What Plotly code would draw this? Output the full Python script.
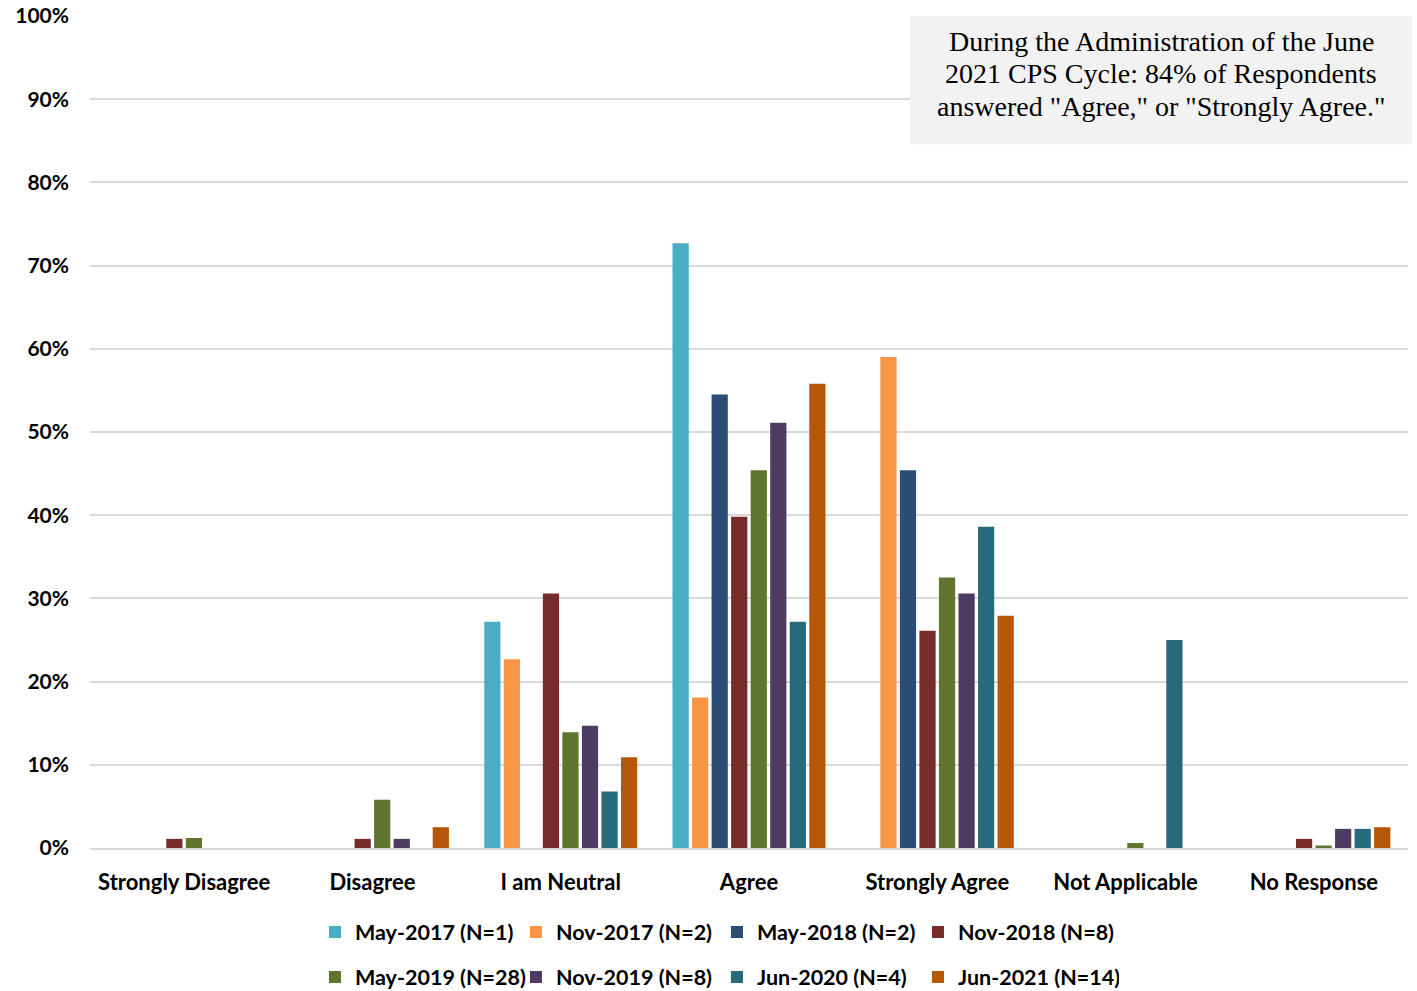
import plotly.graph_objects as go

categories = ["Strongly Disagree", "Disagree", "I am Neutral", "Agree",
              "Strongly Agree", "Not Applicable", "No Response"]

series_names = ["May-2017 (N=1)", "Nov-2017 (N=2)", "May-2018 (N=2)", "Nov-2018 (N=8)",
                "May-2019 (N=28)", "Nov-2019 (N=8)", "Jun-2020 (N=4)", "Jun-2021 (N=14)"]

may_2017 = [0, 0, 27.2, 72.7, 0, 0, 0]
nov_2017 = [0, 0, 22.7, 18.1, 59.0, 0, 0]
may_2018 = [0, 0, 0, 54.5, 45.4, 0, 0]
nov_2018 = [1.1, 1.1, 30.6, 39.8, 26.1, 0, 1.1]
may_2019 = [1.2, 5.8, 13.9, 45.4, 32.5, 0.6, 0.3]
nov_2019 = [0, 1.1, 14.7, 51.1, 30.6, 0, 2.3]
jun_2020 = [0, 0, 6.8, 27.2, 38.6, 25.0, 2.3]
jun_2021 = [0, 2.5, 10.9, 55.8, 27.9, 0, 2.5]

series_values = [may_2017, nov_2017, may_2018, nov_2018,
                 may_2019, nov_2019, jun_2020, jun_2021]

colors = ["#4BACC6", "#F79646", "#2C4D75", "#772C2A",
          "#5F7530", "#4D3B62", "#276A7C", "#B65708"]

y_ticks = [0, 10, 20, 30, 40, 50, 60, 70, 80, 90, 100]
y_tick_labels = [f"{t}%" for t in y_ticks]

note_lines = ["During the Administration of the June",
              "2021 CPS Cycle: 84% of Respondents",
              'answered "Agree," or "Strongly Agree."']

SANS = "Lato, 'Open Sans', sans-serif"
label_font = dict(family=SANS, size=22, color="#000000", weight="bold")
legend_font = dict(family=SANS, size=21.5, color="#000000", weight="bold")

fig = go.Figure()
for i, (name, vals, col) in enumerate(zip(series_names, series_values, colors)):
    fig.add_trace(go.Bar(
        x=categories, y=vals, name=name,
        marker=dict(color=col, line=dict(width=0)),
        legend="legend" if i < 4 else "legend2",
        hovertemplate="%{x}<br>" + name + ": %{y:.1f}%<extra></extra>",
    ))

legend_common = dict(
    orientation="h", x=0.4757, xanchor="center", yref="container",
    yanchor="middle", font=legend_font, itemwidth=30,
    entrywidth=156, entrywidthmode="pixels",
    bgcolor="rgba(0,0,0,0)", tracegroupgap=0,
)

fig.update_layout(
    width=1417, height=991,
    margin=dict(l=90, r=9, t=16, b=143, autoexpand=False),
    paper_bgcolor="white", plot_bgcolor="white",
    barmode="group", bargap=0.17, bargroupgap=0.17,
    font=dict(family=SANS, color="#000000"),
    xaxis=dict(
        showgrid=False, showline=True, linecolor="#D9D9D9", linewidth=2,
        ticks="", ticklabelstandoff=14, tickfont=label_font,
    ),
    yaxis=dict(
        range=[0, 100], tickvals=y_ticks, ticktext=y_tick_labels,
        showgrid=True, gridcolor="#D9D9D9", gridwidth=2,
        zeroline=False, showline=False, ticks="", ticklabelstandoff=20,
        tickfont=dict(family=SANS, size=21, color="#000000", weight="bold"),
    ),
    legend=dict(legend_common, y=1 - 932 / 991),
    legend2=dict(legend_common, y=1 - 977 / 991),
    showlegend=True,
)

# shaded note box in the upper right corner
fig.add_shape(type="rect", xref="paper", yref="paper",
              x0=0.622, x1=1.003, y0=0.846, y1=1.0,
              fillcolor="#F2F2F2", line=dict(width=0), layer="above")
for k, line in enumerate(note_lines):
    fig.add_annotation(xref="paper", yref="paper", x=0.8126, y=0.9688 - k * 0.0385,
                       xanchor="center", yanchor="middle", showarrow=False,
                       text=line,
                       font=dict(family="'Liberation Serif', 'Times New Roman', serif",
                                 size=28, color="#000000"))

fig.write_html("out.html")
